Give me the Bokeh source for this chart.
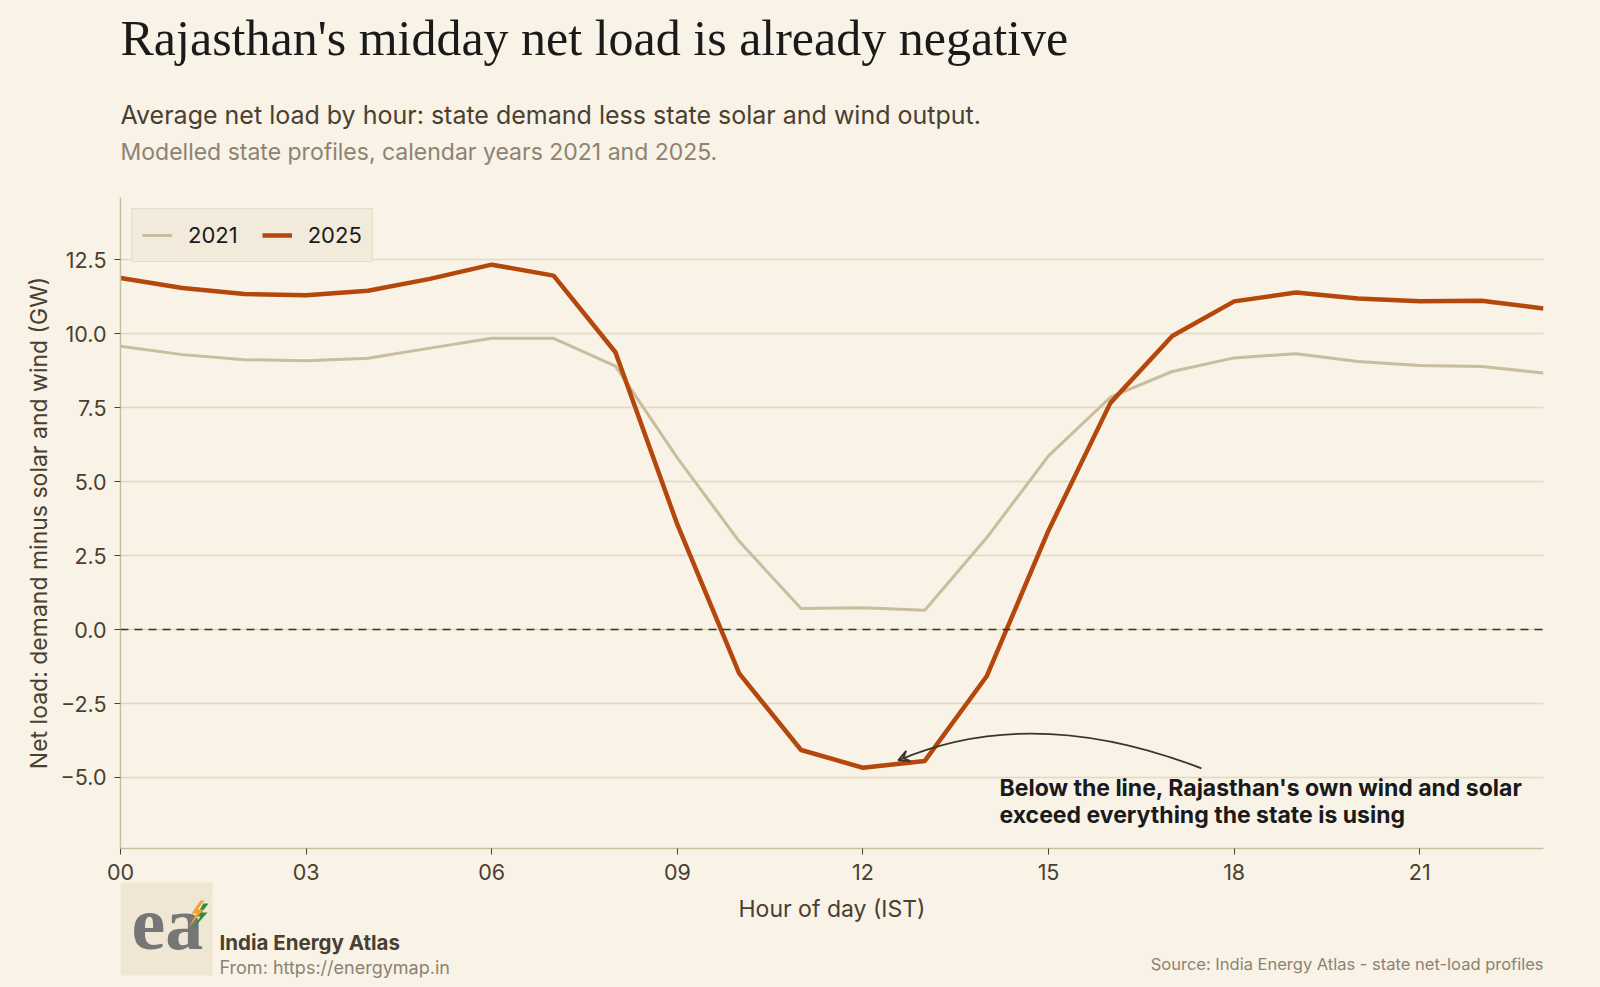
from bokeh.plotting import figure
from bokeh.models import (Legend, LegendItem, FixedTicker, Span, Arrow, VeeHead, Label,
                          Range1d, Column)
from bokeh.core.properties import value
from bokeh.embed import file_html
from bokeh.resources import INLINE

# ---- data ----
hours = list(range(24))
net_2021 = [9.57, 9.29, 9.12, 9.08, 9.17, 9.51, 9.84, 9.84, 8.90, 5.80, 2.98, 0.71,
            0.74, 0.65, 3.10, 5.87, 7.85, 8.72, 9.18, 9.32, 9.06, 8.92, 8.89, 8.67]
net_2025 = [11.88, 11.54, 11.34, 11.30, 11.45, 11.85, 12.33, 11.96, 9.37, 3.55, -1.48, -4.07,
            -4.67, -4.44, -1.58, 3.35, 7.66, 9.92, 11.09, 11.39, 11.19, 11.09, 11.11, 10.85]
x_ticks = [0, 3, 6, 9, 12, 15, 18, 21]
x_tick_labels = ["00", "03", "06", "09", "12", "15", "18", "21"]
y_ticks = [-5, -2.5, 0, 2.5, 5, 7.5, 10, 12.5]
y_tick_labels = ["\u22125.0", "\u22122.5", "0.0", "2.5", "5.0", "7.5", "10.0", "12.5"]

# annotation arrow (data coords): start, apex, end
arrow_start = (17.47, -4.69)
arrow_apex = (14.88, -3.52)
arrow_end = (12.57, -4.42)

BG = "#f9f2e6"
C2021 = "#c9bd9d"
C2025 = "#b4470c"
GRID = "#e3d9c0"
AXIS = "#cbbfa2"
DARK = "#4a4030"
MUTED = "#8c8372"
INK = "#1a1a1a"
FONT = "Inter"
W, H = 1600, 987
FL, FR = 120, 1543   # frame left / right in page pixels

# ---------------- main chart ----------------
p = figure(width=W, height=H, output_backend="svg", toolbar_location=None,
           x_range=Range1d(0, 23), y_range=Range1d(-7.4, 14.6),
           min_border_left=FL, min_border_right=W - FR, min_border_top=197, min_border_bottom=139,
           background_fill_color=BG, border_fill_color=BG, outline_line_color=None)

p.xgrid.grid_line_color = None
p.ygrid.grid_line_color = GRID
p.ygrid.grid_line_width = 1.5
p.ygrid.ticker = FixedTicker(ticks=y_ticks)

p.xaxis.ticker = FixedTicker(ticks=x_ticks)
p.xaxis.major_label_overrides = {t: l for t, l in zip(x_ticks, x_tick_labels)}
p.yaxis.ticker = FixedTicker(ticks=y_ticks)
p.yaxis.major_label_overrides = {t: l for t, l in zip(y_ticks, y_tick_labels)}
for ax in (p.xaxis[0], p.yaxis[0]):
    ax.axis_line_color = AXIS
    ax.axis_line_width = 1.5
    ax.major_tick_line_color = DARK
    ax.major_tick_line_width = 1
    ax.major_tick_in = 0
    ax.major_tick_out = 6
    ax.minor_tick_line_color = None
    ax.major_label_text_font = FONT
    ax.major_label_text_font_size = "21.5px"
    ax.major_label_text_color = DARK
    ax.axis_label_text_font = FONT
    ax.axis_label_text_font_size = "23px"
    ax.axis_label_text_font_style = "normal"
    ax.axis_label_text_color = DARK
p.xaxis.axis_label = "Hour of day (IST)"
p.yaxis.axis_label = "Net load: demand minus solar and wind (GW)"
p.xaxis.major_label_standoff = 9
p.xaxis.axis_label_standoff = 12
p.yaxis.major_label_standoff = 8
p.yaxis.axis_label_standoff = 5

p.add_layout(Span(location=0, dimension="width", line_color="#3b3428",
                  line_width=1.5, line_dash="8 6"))

r21 = p.line(hours, net_2021, line_color=C2021, line_width=3)
r25 = p.line(hours, net_2025, line_color=C2025, line_width=4.5)

legend = Legend(items=[LegendItem(label="2021", renderers=[r21]),
                       LegendItem(label="2025", renderers=[r25])],
                orientation="horizontal", location="top_left", margin=11,
                padding=10, spacing=24, glyph_width=30, glyph_height=32, label_height=32,
                label_standoff=16,
                label_text_font=FONT, label_text_font_size="22px", label_text_color=INK,
                background_fill_color="#f2eadb", background_fill_alpha=1.0,
                border_line_color="#dacfb2", border_line_width=1.5)
p.add_layout(legend)

# curved annotation arrow
cx = 2 * arrow_apex[0] - (arrow_start[0] + arrow_end[0]) / 2
cy = 2 * arrow_apex[1] - (arrow_start[1] + arrow_end[1]) / 2
p.quadratic(x0=[arrow_start[0]], y0=[arrow_start[1]], x1=[arrow_end[0]], y1=[arrow_end[1]],
            cx=[cx], cy=[cy], line_color="#3b3428", line_width=1.8)
dx, dy = cx - arrow_end[0], cy - arrow_end[1]
p.add_layout(Arrow(x_start=arrow_end[0] + 0.03 * dx, y_start=arrow_end[1] + 0.03 * dy,
                   x_end=arrow_end[0], y_end=arrow_end[1], line_color="#3b3428", line_width=1.8,
                   end=VeeHead(size=11, line_color="#3b3428", line_width=1.8, fill_alpha=0)))

for txt_, sy in (("Below the line, Rajasthan's own wind and solar", 61),
                 ("exceed everything the state is using", 33.5)):
    p.add_layout(Label(x=879, y=sy, x_units="screen", y_units="screen", text=txt_,
                       text_font=FONT, text_font_size="23px", text_font_style="bold",
                       text_color=INK, text_baseline="alphabetic"))

# ---------------- overlay: header, footer, logo (page pixel coordinates) ----------------
ov = figure(width=W, height=H, output_backend="svg", toolbar_location=None,
            x_range=Range1d(FL, FR), y_range=Range1d(H, 0), min_border=0,
            x_axis_type=None, y_axis_type=None, outline_line_color=None,
            background_fill_alpha=0, border_fill_alpha=0, margin=(-H, 0, 0, 0))
ov.grid.visible = False

def txt(x, y, s, size, color, font=FONT, style="normal", align="left"):
    ov.text(x=[x], y=[y], text=[s], text_font=value(font), text_font_size=value(size),
            text_color=color, text_font_style=style, text_align=align,
            text_baseline="alphabetic")

txt(120, 37, "Rajasthan's midday net load is already negative", "50px", INK,
    font="Liberation Serif")
txt(120, 114.5, "Average net load by hour: state demand less state solar and wind output.",
    "25px", DARK)
txt(120, 151, "Modelled state profiles, calendar years 2021 and 2025.", "23px", MUTED)

# logo
ov.quad(left=[120], right=[212], top=[882], bottom=[975], fill_color="#efe7d4",
        line_color=None)
txt(131, 922, "ea", "76px", "#767676", font="Liberation Serif", style="bold")
ov.patch(x=[203, 195, 200, 191, 207, 201, 208], y=[903, 916, 916, 930, 912, 912, 903],
         fill_color="#2f8a3c", line_color=None)
ov.patch(x=[200, 191, 196, 188, 203, 197, 204], y=[900, 913, 913, 927, 909, 909, 900],
         fill_color="#f0a232", line_color=None)

txt(219, 942, "India Energy Atlas", "20.5px", DARK, style="bold")
txt(219, 967, "From: https://energymap.in", "18px", MUTED)
txt(1543, 963, "Source: India Energy Atlas - state net-load profiles", "16.5px", MUTED,
    align="right")

layout = Column(children=[p, ov], spacing=0)

html = file_html(layout, INLINE)
html = html.replace("</head>",
                    "<style>html,body{margin:0;padding:0;background:%s;overflow:hidden;}</style></head>" % BG, 1)
open("out.html", "w").write(html)
